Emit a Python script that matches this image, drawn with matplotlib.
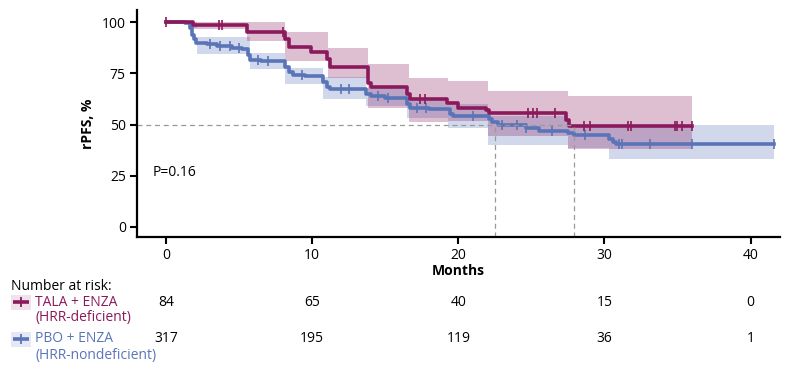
import matplotlib
matplotlib.use('Agg')
import matplotlib.pyplot as plt
from matplotlib.lines import Line2D
from matplotlib.patches import Rectangle
import matplotlib.transforms as mtransforms

plt.rcParams['font.family'] = ['Open Sans', 'DejaVu Sans']

# TALA + ENZA (HRR-deficient)
tala_t = [0, 1.85, 5.5, 8.15, 8.4, 9.9, 11.0, 11.2, 13.8, 14.0, 16.5, 16.7, 19.2, 20.0, 21.9, 22.1, 27.4, 27.6, 36.0]
tala_s = [100, 98.8, 95.2, 91.7, 88.0, 85.5, 82.0, 78.0, 70.5, 68.5, 65.0, 62.5, 60.5, 58.2, 57.0, 55.4, 52.0, 49.5, 49.5]
tala_ci_t = [0, 1.85, 5.5, 8.15, 11.1, 13.8, 16.6, 19.3, 22.0, 27.5, 36.0]
tala_hi = [100, 100, 100, 95, 87.6, 79.4, 72.9, 71.2, 66.3, 64, 64]
tala_lo = [100, 96.5, 90.8, 81, 72.9, 58.2, 51, 51.6, 44.3, 38, 38]
tala_cens = [0, 3.6, 3.8, 8.0, 17.4, 17.7, 24.8, 25.1, 25.4, 26.6, 28.6, 29.0, 31.6, 31.8, 34.8, 35.0, 35.3, 36.0]

# PBO + ENZA (HRR-nondeficient)
pbo_t = [0, 1.3, 1.6, 1.75, 1.9, 2.05, 2.8, 3.5, 4.5, 5.2, 5.6, 5.75, 6.5, 8.15, 8.4, 8.7, 9.5, 10.75, 11.0,
         11.2, 13.7, 14.0, 15.0, 16.5, 16.7, 18.0, 19.4, 19.6, 22.1, 22.3, 22.7, 24.6, 25.5, 27.5, 27.9, 30.3,
         30.6, 30.8, 41.6]
pbo_s = [100, 99.4, 97, 94, 92, 90, 89.5, 88.5, 87.5, 86.8, 84, 81.5, 81, 78, 75.5, 74, 73.5, 71, 68.5,
         67.5, 65, 63.8, 63, 60, 58.2, 57.4, 55, 54, 52.5, 51, 49.8, 48.4, 47, 45.8, 45, 43,
         41.5, 40.7, 40.7]
pbo_ci_t = [0, 1.6, 2.1, 5.75, 8.15, 10.75, 13.7, 16.5, 19.3, 22.0, 27.5, 30.3, 41.6]
pbo_hi = [100, 100, 93, 85.1, 77.8, 73, 68, 63, 60, 54, 49, 50, 50]
pbo_lo = [100, 97, 84.3, 77, 69.6, 62.3, 59, 53.4, 48.5, 40, 38.7, 33.3, 33.3]
pbo_cens = [3.0, 3.7, 4.4, 5.0, 6.3, 7.0, 9.3, 12.0, 12.5, 14.5, 15.2, 17.2, 17.8, 21.0, 23.0, 24.0, 24.6,
            26.4, 28.7, 31.0, 31.2, 33.1, 36.0, 41.6]

medians = [22.5, 27.9]
risk_times = [0, 10, 20, 30, 40]
tala_risk = [84, 65, 40, 15, 0]
pbo_risk = [317, 195, 119, 36, 1]

purple = '#8B1A5C'
blue = '#5A74B8'


def surv_at(t, times, surv):
    v = surv[0]
    for ti, si in zip(times, surv):
        if ti <= t:
            v = si
    return v


fig = plt.figure(figsize=(7.9, 3.7), dpi=100)
ax = fig.add_axes([0.1734, 0.3595, 0.8136, 0.6135])

ax.fill_between(pbo_ci_t, pbo_lo, pbo_hi, step='post', color=blue, alpha=0.28, lw=0)
ax.fill_between(tala_ci_t, tala_lo, tala_hi, step='post', color=purple, alpha=0.28, lw=0)

ax.step(pbo_t, pbo_s, where='post', color=blue, lw=2.6)
ax.plot(pbo_cens, [surv_at(c, pbo_t, pbo_s) for c in pbo_cens], ls='none', marker='|',
        color=blue, ms=7, mew=1.2)
ax.step(tala_t, tala_s, where='post', color=purple, lw=2.6)
ax.plot(tala_cens, [surv_at(c, tala_t, tala_s) for c in tala_cens], ls='none', marker='|',
        color=purple, ms=7, mew=1.2)

# median lines
ax.plot([-2, max(medians)], [50, 50], ls=(0, (4, 3)), color='#999999', lw=0.9)
for m in medians:
    ax.plot([m, m], [-5, 50], ls=(0, (4, 3)), color='#999999', lw=0.9)

ax.text(-0.95, 26.5, 'P=0.16', fontsize=10, va='center', ha='left')

ax.set_xlim(-2, 42)
ax.set_ylim(-5, 106)
ax.set_xticks(risk_times)
ax.set_yticks([0, 25, 50, 75, 100])
ax.tick_params(width=1.5, length=5, labelsize=10, pad=3)
for sp in ['top', 'right']:
    ax.spines[sp].set_visible(False)
for sp in ['left', 'bottom']:
    ax.spines[sp].set_linewidth(1.6)
ax.set_ylabel('rPFS, %', fontsize=10, fontweight='bold', labelpad=5)
ax.set_xlabel('Months', fontsize=10, fontweight='bold', labelpad=1)

# number at risk table
trans = mtransforms.blended_transform_factory(ax.transData, fig.transFigure)
fig.text(11 / 790, 1 - 286 / 370, 'Number at risk:', fontsize=10, va='center', ha='left')
rows = [(tala_risk, purple, '#F0E2EA', 'TALA + ENZA', '(HRR-deficient)', 302),
        (pbo_risk, blue, '#E4E8F4', 'PBO + ENZA', '(HRR-nondeficient)', 339)]
for risk, col, bg, name, sub, ypx in rows:
    yf = 1 - ypx / 370
    fig.add_artist(Rectangle((11 / 790, yf - 7.5 / 370), 20 / 790, 15 / 370, transform=fig.transFigure,
                             color=bg, lw=0))
    fig.add_artist(Line2D([13 / 790, 21 / 790, 29 / 790], [yf, yf, yf], transform=fig.transFigure,
                          color=col, lw=2.6, marker='|', markevery=[1], ms=7, mew=1.3,
                          solid_capstyle='butt'))
    fig.text(35 / 790, yf, name, color=col, fontsize=10, va='center', ha='left')
    fig.text(35 / 790, yf - 16 / 370, sub, color=col, fontsize=10, va='center', ha='left')
    for t, n in zip(risk_times, risk):
        ax.text(t, yf, str(n), transform=trans, fontsize=10, ha='center', va='center')

fig.savefig('out.png', dpi=100)
